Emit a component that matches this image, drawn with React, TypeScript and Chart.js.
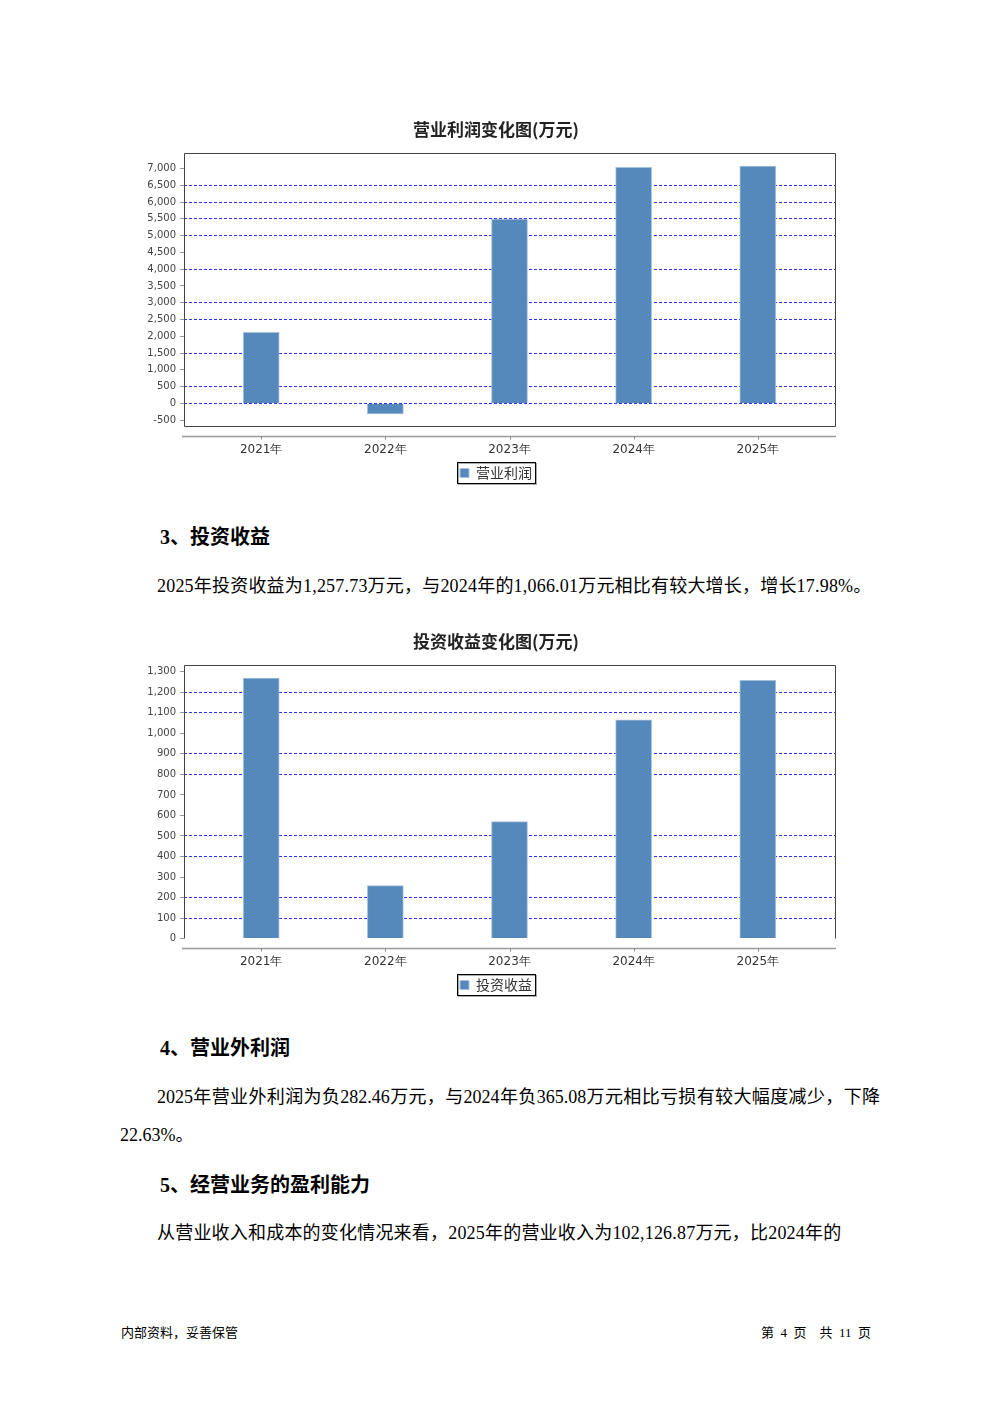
import React, { useEffect, useRef } from 'react';
import { Chart, registerables } from 'chart.js';

Chart.register(...registerables);

// ---------- data ----------
const categories = ['2021年', '2022年', '2023年', '2024年', '2025年'];
const operatingProfit = [2115, -315, 5490, 7033, 7071];
const investmentIncome = [1269, 258, 570, 1066.01, 1257.73];
const profitTicks = [-500, 0, 500, 1000, 1500, 2000, 2500, 3000, 3500, 4000, 4500, 5000, 5500, 6000, 6500, 7000];
const incomeTicks = [0, 100, 200, 300, 400, 500, 600, 700, 800, 900, 1000, 1100, 1200, 1300];
// grid lines that are not visible in the reference picture
const profitNoGrid = [-500, 1000, 2000, 3500, 4500, 7000];
const incomeNoGrid = [0, 300, 600, 700, 1000, 1300];

const BAR = '#5589bc';
const CJK = '"Noto Sans CJK SC", "DejaVu Sans", sans-serif';
const TICKF = '"DejaVu Sans", sans-serif';

type Spec = {
  title: string;
  label: string;
  values: number[];
  ticks: number[];
  noGrid: number[];
  yMin: number;
  yMax: number;
  bottomFrame: boolean;
};

function makeConfig(s: Spec): any {
  const framePlugin = {
    id: 'frame',
    afterLayout(chart: any) {
      // centre title and legend on the whole canvas, not on the padded box
      const boxes = [chart.titleBlock, chart.legend];
      boxes.forEach((b: any) => {
        if (!b) return;
        b.left = 0;
        b.right = chart.width;
        b.width = chart.width;
      });
    },
    afterDatasetsDraw(chart: any) {
      const { ctx, chartArea: a } = chart;
      ctx.save();
      ctx.strokeStyle = '#444';
      ctx.lineWidth = 1;
      ctx.beginPath();
      const l = Math.round(a.left) + 0.5, r = Math.round(a.right) - 0.5;
      const t = Math.round(a.top) + 0.5, b = Math.round(a.bottom) - 0.5;
      ctx.moveTo(l, b);
      ctx.lineTo(l, t);
      ctx.lineTo(r, t);
      ctx.lineTo(r, b);
      if (s.bottomFrame) ctx.lineTo(l, b);
      ctx.stroke();
      // category axis line below the plot
      const xs = chart.scales.x;
      const ay = Math.round(a.bottom) + 9.5;
      ctx.strokeStyle = '#999';
      ctx.lineWidth = 1.5;
      ctx.beginPath();
      ctx.moveTo(a.left - 2, ay);
      ctx.lineTo(a.right, ay);
      ctx.stroke();
      ctx.lineWidth = 1;
      ctx.strokeStyle = '#888';
      categories.forEach((_, i) => {
        const px = Math.round(xs.getPixelForValue(i)) + 0.5;
        ctx.beginPath();
        ctx.moveTo(px, ay);
        ctx.lineTo(px, ay + 3);
        ctx.stroke();
      });
      ctx.restore();
    },
    afterDraw(chart: any) {
      const lg = chart.legend;
      if (!lg || !lg.legendHitBoxes || !lg.legendHitBoxes.length) return;
      const hb = lg.legendHitBoxes[0];
      const { ctx } = chart;
      const x = Math.round(hb.left) - 3 + 0.5;
      const y = Math.round(hb.top) - 4 + 0.5;
      const w = Math.round(hb.width) + 6;
      const h = Math.round(hb.height) + 7;
      ctx.save();
      ctx.strokeStyle = '#aaa';
      ctx.lineWidth = 1;
      ctx.strokeRect(x + 1, y + 1, w, h);
      ctx.strokeStyle = '#000';
      ctx.strokeRect(x, y, w, h);
      ctx.restore();
    },
  };

  return {
    type: 'bar',
    data: {
      datasets: [
        {
          label: s.label,
          data: categories.map((c, i) => ({ x: i, y: s.values[i] })),
          backgroundColor: BAR,
          borderColor: '#a6c1de',
          borderWidth: 1,
          borderSkipped: 'start',
          barThickness: 36,
        },
      ],
    },
    options: {
      animation: false,
      responsive: false,
      devicePixelRatio: 1,
      layout: { padding: { left: 0, right: 36, top: 0, bottom: 10 } },
      plugins: {
        title: {
          display: true,
          text: s.title,
          color: '#222',
          font: { family: CJK, size: 17, weight: 'bold' },
          padding: { top: 9, bottom: 14 },
        },
        legend: {
          display: true,
          position: 'bottom',
          labels: {
            boxWidth: 9,
            boxHeight: 9,
            color: '#333',
            font: { family: CJK, size: 14 },
            padding: 11,
          },
        },
        tooltip: { enabled: false },
      },
      scales: {
        x: {
          type: 'linear',
          offset: false,
          min: -0.622,
          max: 4.63,
          afterBuildTicks: (sc: any) => {
            sc.ticks = categories.map((_, i) => ({ value: i }));
          },
          afterFit: (sc: any) => {
            sc.height = 28;
          },
          grid: { display: true, offset: false, drawOnChartArea: false, drawTicks: false, color: 'rgba(0,0,0,0)' },
          border: { display: false },
          ticks: {
            autoSkip: false,
            maxRotation: 0,
            padding: 16,
            color: '#333',
            font: { family: TICKF, size: 12 },
            callback: (v: any) => categories[v] ?? '',
          },
        },
        y: {
          type: 'linear',
          min: s.yMin,
          max: s.yMax,
          afterBuildTicks: (sc: any) => {
            sc.ticks = s.ticks.map((v) => ({ value: v }));
          },
          afterFit: (sc: any) => {
            sc.width = 64;
          },
          grid: {
            display: true,
            drawOnChartArea: true,
            drawTicks: true,
            tickLength: 4,
            tickColor: '#999',
            tickBorderDash: [],
            lineWidth: 1,
            color: (ctx: any) =>
              ctx.tick && s.noGrid.includes(ctx.tick.value) ? 'rgba(0,0,0,0)' : '#3030ff',
          },
          border: { display: false, dash: [3, 2] },
          ticks: {
            padding: 4,
            color: '#444',
            font: { family: TICKF, size: 10 },
            callback: (v: any) => Number(v).toLocaleString('en-US'),
          },
        },
      },
    },
    plugins: [framePlugin],
  };
}

function BarChart({ spec, left, top }: { spec: Spec; left: number; top: number }) {
  const ref = useRef<HTMLCanvasElement | null>(null);
  useEffect(() => {
    if (!ref.current) return;
    const chart = new Chart(ref.current, makeConfig(spec));
    return () => chart.destroy();
  }, [spec]);
  return (
    <div style={{ position: 'absolute', left, top, width: 752, height: 390 }}>
      <canvas ref={ref} width={752} height={390} style={{ display: 'block', width: 752, height: 390 }} />
    </div>
  );
}

const profitSpec: Spec = {
  title: '营业利润变化图(万元)',
  label: '营业利润',
  values: operatingProfit,
  ticks: profitTicks,
  noGrid: profitNoGrid,
  yMin: -703,
  yMax: 7448,
  bottomFrame: true,
};

const incomeSpec: Spec = {
  title: '投资收益变化图(万元)',
  label: '投资收益',
  values: investmentIncome,
  ticks: incomeTicks,
  noGrid: incomeNoGrid,
  yMin: -2,
  yMax: 1331,
  bottomFrame: false,
};

const TEXTF = '"Liberation Serif", "Noto Sans CJK SC", serif';

function Line({
  x,
  cy,
  size,
  bold,
  children,
  width,
  spacing,
  justify,
  right,
}: {
  x: number;
  cy: number;
  size: number;
  bold?: boolean;
  children: React.ReactNode;
  width?: number;
  spacing?: number;
  justify?: boolean;
  right?: boolean;
}) {
  const lh = Math.round(size * 1.5);
  const style: React.CSSProperties = {
    position: 'absolute',
    top: cy - lh / 2,
    lineHeight: lh + 'px',
    fontSize: size,
    fontFamily: TEXTF,
    fontWeight: bold ? 'bold' : 'normal',
    color: '#000',
    whiteSpace: 'pre',
    letterSpacing: spacing ? spacing + 'px' : undefined,
  };
  if (right) {
    style.right = 992 - x;
  } else {
    style.left = x;
  }
  if (width) style.width = width;
  if (justify) {
    style.textAlign = 'justify';
    (style as any).textAlignLast = 'justify';
    style.whiteSpace = 'normal';
  }
  return <div style={style}>{children}</div>;
}

export default function App() {
  return (
    <div style={{ position: 'absolute', left: 0, top: 0, width: 992, height: 1403, background: '#fff', overflow: 'hidden' }}>
      <BarChart spec={profitSpec} left={120} top={110} />
      <Line x={160} cy={537} size={20} bold>3、投资收益</Line>
      <Line x={157} cy={586} size={18} spacing={0.2}>2025年投资收益为1,257.73万元，与2024年的1,066.01万元相比有较大增长，增长17.98%。</Line>
      <BarChart spec={incomeSpec} left={120} top={622} />
      <Line x={160} cy={1048} size={20} bold>4、营业外利润</Line>
      <Line x={157} cy={1097} size={18} width={723} justify>2025年营业外利润为负282.46万元，与2024年负365.08万元相比亏损有较大幅度减少，下降</Line>
      <Line x={120} cy={1135} size={18}>22.63%。</Line>
      <Line x={160} cy={1185} size={20} bold>5、经营业务的盈利能力</Line>
      <Line x={157} cy={1233} size={18} spacing={0.2}>从营业收入和成本的变化情况来看，2025年的营业收入为102,126.87万元，比2024年的</Line>
      <Line x={121} cy={1333} size={13}>内部资料，妥善保管</Line>
      <Line x={871} cy={1333} size={13} right>{'第  4  页    共  11  页'}</Line>
    </div>
  );
}
